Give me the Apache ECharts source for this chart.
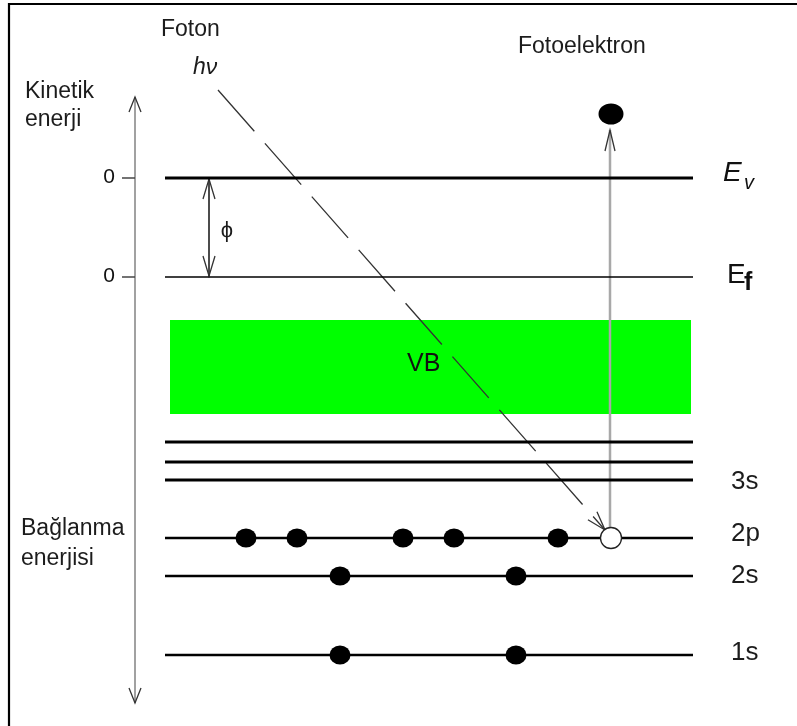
<!DOCTYPE html>
<html><head><meta charset="utf-8">
<script src="https://cdn.jsdelivr.net/npm/echarts@6/dist/echarts.min.js"></script>
<style>html,body{margin:0;padding:0;background:#fff}#c{width:797px;height:726px}</style>
</head><body><div id="c"></div>
<script>
// ---- data (diagram units: x = horizontal position, y = depth / binding energy) ----
const levelNames   = ['Ev', 'Ef', 'L1', 'L2', '3s', '2p', '2s', '1s'];
const levelValues  = [178, 277, 442, 462, 480, 538, 576, 655];
const levelSpan    = [165, 693];
const bandVB       = [320, 414];
const bandSpan     = [170, 691];
const electrons2p  = [246, 297, 403, 454, 558];
const holes2p      = [611];
const electrons2s  = [340, 516];
const electrons1s  = [340, 516];
const photoelectron = [611, 114];
const photonPath    = [[218, 90], [605, 530]];
const emissionPath  = [[610, 528], [610, 130]];
const energyAxisPath = [[135, 97], [135, 703]];
const workFunctionPath = [[209, 179], [209, 276]];
const zeroTicks = [178, 277];
const zeroTickLabels = ['0', '0'];

// ---- styles ----
const FONT = "'Liberation Sans', Arial, sans-serif";
const TXT = '#1c1c1c';
const levelWidth = {Ev: 3, Ef: 1.6, L1: 3, L2: 3, '3s': 3, '2p': 2.6, '2s': 2.6, '1s': 2.6};
const levelLabelStyle = {
  '3s': {fs: 26, dy: 11}, '2p': {fs: 26, dy: 5}, '2s': {fs: 26, dy: 9}, '1s': {fs: 26, dy: 7}
};
function mid(baseline, fs) { return baseline - 0.35 * fs; }

const chart = echarts.init(document.getElementById('c'), null, {renderer: 'canvas'});

function chevron(tip, from, L, W) {
  const dx = tip[0] - from[0], dy = tip[1] - from[1];
  const len = Math.hypot(dx, dy); const ux = dx / len, uy = dy / len;
  const nx = -uy, ny = ux;
  return [[tip[0] - L * ux + W * nx, tip[1] - L * uy + W * ny], tip,
          [tip[0] - L * ux - W * nx, tip[1] - L * uy - W * ny]];
}

const arrows = [
  {path: energyAxisPath, color: '#8a8a8a', width: 1.6, dash: null, heads: [true, true], headColor: '#333', L: 15, W: 6},
  {path: workFunctionPath, color: '#111', width: 1.5, dash: null, heads: [true, true], headColor: '#333', L: 20, W: 6},
  {path: photonPath, color: '#333', width: 1.3, dash: [55, 16], heads: [false, true], headColor: '#333', L: 19, W: 6},
  {path: emissionPath, color: '#a8a8a8', width: 2.5, dash: null, heads: [false, true], headColor: '#333', L: 21, W: 5}
];

const option = {
  animation: false,
  backgroundColor: '#fff',
  grid: {left: 0, right: 0, top: 0, bottom: 0},
  xAxis: {type: 'value', min: 0, max: 797, show: false},
  yAxis: {type: 'value', min: 0, max: 726, inverse: true, show: false},
  series: [
    { // valence band
      type: 'custom', z: 1,
      data: [[bandSpan[0], bandVB[0], bandSpan[1], bandVB[1]]],
      renderItem: (params, api) => {
        const p0 = api.coord([api.value(0), api.value(1)]);
        const p1 = api.coord([api.value(2), api.value(3)]);
        return {type: 'group', children: [
          {type: 'rect', shape: {x: p0[0], y: p0[1], width: p1[0] - p0[0], height: p1[1] - p0[1]}, style: {fill: '#00ff00'}},
          {type: 'text', style: {text: 'VB', x: 407, y: mid(373, 25), font: `25px ${FONT}`, fill: '#111', verticalAlign: 'middle'}}
        ]};
      }
    },
    { // arrows
      type: 'custom', z: 2,
      data: arrows.map((a, i) => [a.path[0][0], a.path[0][1], a.path[1][0], a.path[1][1], i]),
      renderItem: (params, api) => {
        const a = arrows[api.value(4)];
        const s = api.coord([api.value(0), api.value(1)]);
        const e = api.coord([api.value(2), api.value(3)]);
        const ch = [{type: 'line', shape: {x1: s[0], y1: s[1], x2: e[0], y2: e[1]},
          style: {stroke: a.color, lineWidth: a.width, lineDash: a.dash}}];
        if (a.heads[1]) ch.push({type: 'polyline', shape: {points: chevron(e, s, a.L, a.W)}, style: {stroke: a.headColor, lineWidth: 1.3, fill: null}});
        if (a.heads[0]) ch.push({type: 'polyline', shape: {points: chevron(s, e, a.L, a.W)}, style: {stroke: a.headColor, lineWidth: 1.3, fill: null}});
        return {type: 'group', children: ch};
      }
    },
    { // zero ticks on the energy axis
      type: 'custom', z: 3,
      data: zeroTicks.map((v, i) => [energyAxisPath[0][0], v, i]),
      renderItem: (params, api) => {
        const p = api.coord([api.value(0), api.value(1)]);
        return {type: 'group', children: [
          {type: 'line', shape: {x1: p[0] - 13, y1: p[1], x2: p[0], y2: p[1]}, style: {stroke: '#444', lineWidth: 1.5}},
          {type: 'text', style: {text: zeroTickLabels[api.value(2)], x: p[0] - 26, y: mid(p[1] + 7, 21), font: `21px ${FONT}`, fill: '#111', align: 'center', verticalAlign: 'middle'}}
        ]};
      }
    },
    { // energy levels
      type: 'custom', z: 4,
      data: levelValues.map((v, i) => [levelSpan[0], v, levelSpan[1], i]),
      renderItem: (params, api) => {
        const name = levelNames[api.value(3)];
        const p0 = api.coord([api.value(0), api.value(1)]);
        const p1 = api.coord([api.value(2), api.value(1)]);
        const ch = [{type: 'line', shape: {x1: p0[0], y1: p0[1], x2: p1[0], y2: p1[1]}, style: {stroke: '#000', lineWidth: levelWidth[name]}}];
        const ls = levelLabelStyle[name];
        if (ls) {
          ch.push({type: 'text', style: {text: name, x: p1[0] + 38, y: mid(p1[1] + ls.dy, ls.fs), font: `${ls.fs}px ${FONT}`, fill: TXT, verticalAlign: 'middle'}});
        } else if (name === 'Ev') {
          ch.push({type: 'text', style: {text: 'E', x: p1[0] + 30, y: mid(p1[1] + 5, 28), font: `italic 28px ${FONT}`, fill: '#111', verticalAlign: 'middle'}});
          ch.push({type: 'text', style: {text: 'v', x: p1[0] + 51, y: mid(p1[1] + 12, 20), font: `italic 20px ${FONT}`, fill: '#111', verticalAlign: 'middle'}});
        } else if (name === 'Ef') {
          ch.push({type: 'text', style: {text: 'E', x: p1[0] + 34, y: mid(p1[1] + 8, 28), font: `28px ${FONT}`, fill: '#111', verticalAlign: 'middle'}});
          ch.push({type: 'text', style: {text: 'f', x: p1[0] + 51, y: mid(p1[1] + 15, 25), font: `bold 25px ${FONT}`, fill: '#111', verticalAlign: 'middle'}});
        }
        return {type: 'group', children: ch};
      }
    },
    { // occupied core electrons
      type: 'scatter', z: 5, symbol: 'circle', symbolSize: [21, 19],
      itemStyle: {color: '#000', opacity: 1},
      data: [
        ...electrons2p.map(x => [x, levelValues[levelNames.indexOf('2p')]]),
        ...electrons2s.map(x => [x, levelValues[levelNames.indexOf('2s')]]),
        ...electrons1s.map(x => [x, levelValues[levelNames.indexOf('1s')]])
      ]
    },
    { // hole left behind
      type: 'scatter', z: 6, symbol: 'circle', symbolSize: 21,
      itemStyle: {color: '#fff', borderColor: '#222', borderWidth: 1.3, opacity: 1},
      data: holes2p.map(x => [x, levelValues[levelNames.indexOf('2p')]])
    },
    { // photoelectron
      type: 'scatter', z: 6, symbol: 'circle', symbolSize: [25, 21],
      itemStyle: {color: '#000', opacity: 1},
      data: [photoelectron]
    }
  ],
  graphic: [
    {type: 'line', shape: {x1: 9, y1: 3, x2: 9, y2: 726}, style: {stroke: '#000', lineWidth: 2.2}, z: 10},
    {type: 'line', shape: {x1: 8, y1: 4, x2: 797, y2: 4}, style: {stroke: '#000', lineWidth: 2.2}, z: 10},
    {type: 'text', style: {text: 'Foton', x: 161, y: mid(38, 23), font: `23px ${FONT}`, fill: TXT, verticalAlign: 'middle'}},
    {type: 'text', style: {text: 'hν', x: 193, y: mid(76, 23), font: `italic 23px ${FONT}`, fill: TXT, verticalAlign: 'middle'}},
    {type: 'text', style: {text: 'Kinetik', x: 25, y: mid(100, 23), font: `23px ${FONT}`, fill: TXT, verticalAlign: 'middle'}},
    {type: 'text', style: {text: 'enerji', x: 25, y: mid(128, 23), font: `23px ${FONT}`, fill: TXT, verticalAlign: 'middle'}},
    {type: 'text', style: {text: 'Fotoelektron', x: 518, y: mid(55, 23), font: `23px ${FONT}`, fill: TXT, verticalAlign: 'middle'}},
    {type: 'text', style: {text: 'Bağlanma', x: 21, y: mid(537, 23), font: `23px ${FONT}`, fill: TXT, verticalAlign: 'middle'}},
    {type: 'text', style: {text: 'enerjisi', x: 21, y: mid(567, 23), font: `23px ${FONT}`, fill: TXT, verticalAlign: 'middle'}},
    {type: 'text', style: {text: 'ϕ', x: 227, y: 231, font: `22px ${FONT}`, fill: TXT, align: 'center', verticalAlign: 'middle'}}
  ]
};
chart.setOption(option);
</script></body></html>
